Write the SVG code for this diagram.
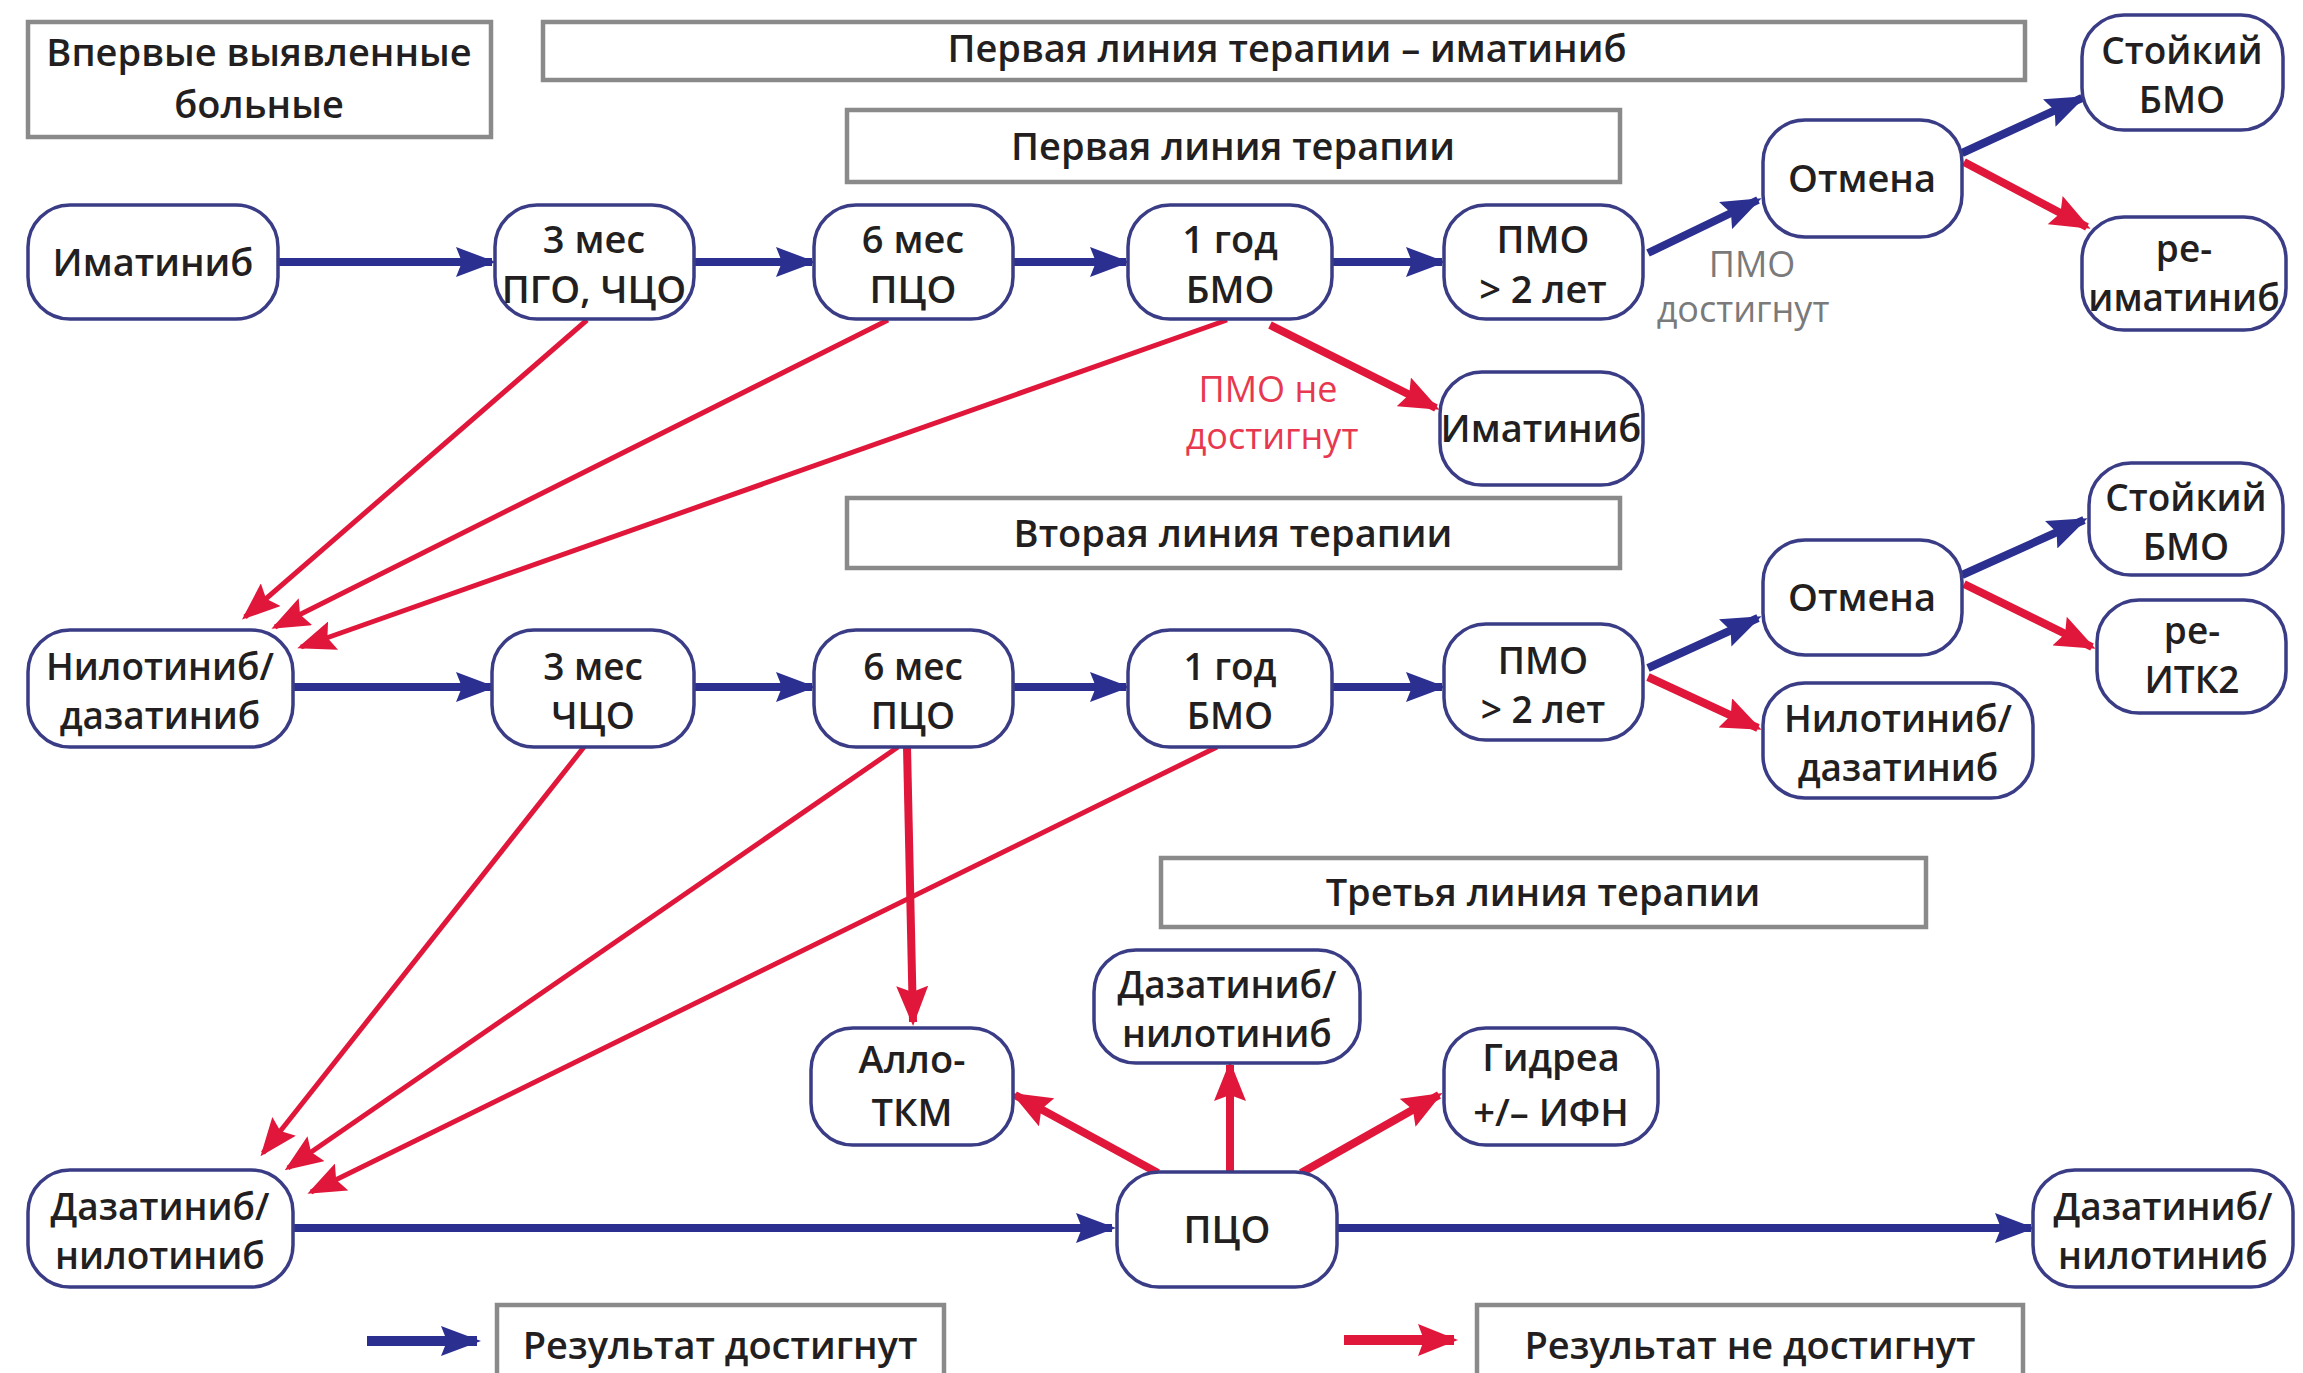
<svg xmlns="http://www.w3.org/2000/svg" width="2303" height="1373" viewBox="0 0 2303 1373">
<defs>
<style>
.hdr{fill:#fff;stroke:#8a8a8a;stroke-width:4.5}
.nd{fill:#fff;stroke:#3a3c86;stroke-width:3.5}
.t{font-family:"Open Sans","Noto Sans","Liberation Sans",sans-serif;font-weight:600;font-size:38px;fill:#231f20;text-anchor:middle}
.t2{font-size:37px}
.lblg{font-family:"Open Sans","Noto Sans","Liberation Sans",sans-serif;font-weight:400;font-size:36px;fill:#7a7a7a;text-anchor:middle}
.lblr{font-family:"Open Sans","Noto Sans","Liberation Sans",sans-serif;font-weight:400;font-size:36px;fill:#e8384f;text-anchor:middle}
.b{stroke:#2b2f8f;stroke-width:8;fill:none;marker-end:url(#bh)}
.r{stroke:#e0173a;stroke-width:5;fill:none;marker-end:url(#rh)}
.rt{stroke:#e0173a;stroke-width:8;fill:none;marker-end:url(#rh2)}
</style>
<marker id="bh" markerUnits="userSpaceOnUse" viewBox="0 0 40 30" markerWidth="40" markerHeight="30" refX="36" refY="15" orient="auto">
<path d="M0,0 L40,15 L0,30 L6,15 z" fill="#2b2f8f"/>
</marker>
<marker id="rh" markerUnits="userSpaceOnUse" viewBox="0 0 38 30" markerWidth="38" markerHeight="30" refX="34" refY="15" orient="auto">
<path d="M0,0 L38,15 L0,30 L6,15 z" fill="#e0173a"/>
</marker>
<marker id="rh2" markerUnits="userSpaceOnUse" viewBox="0 0 40 32" markerWidth="40" markerHeight="32" refX="36" refY="16" orient="auto">
<path d="M0,0 L40,16 L0,32 L6,16 z" fill="#e0173a"/>
</marker>
</defs>
<rect width="2303" height="1373" fill="#fff"/>

<g id="headers">
<g id="h-new"><rect class="hdr" x="28" y="22" width="463" height="115"/><text class="t"><tspan x="259" y="66">Впервые выявленные</tspan><tspan x="259" y="118">больные</tspan></text></g>
<g id="h-first-imatinib"><rect class="hdr" x="543" y="22" width="1482" height="58"/><text class="t" x="1287" y="62">Первая линия терапии – иматиниб</text></g>
<g id="h-first"><rect class="hdr" x="847" y="110" width="773" height="72"/><text class="t" x="1233" y="160">Первая линия терапии</text></g>
<g id="h-second"><rect class="hdr" x="847" y="498" width="773" height="70"/><text class="t" x="1233" y="547">Вторая линия терапии</text></g>
<g id="h-third"><rect class="hdr" x="1161" y="858" width="765" height="69"/><text class="t" x="1543" y="906">Третья линия терапии</text></g>
<g id="legend-ok"><rect class="hdr" x="497" y="1305" width="447" height="85"/><text class="t" x="720" y="1359">Результат достигнут</text></g>
<g id="legend-fail"><rect class="hdr" x="1477" y="1305" width="546" height="85"/><text class="t" x="1750" y="1359">Результат не достигнут</text></g>
</g>

<g id="connectors">
<line class="b" x1="278" y1="262" x2="492" y2="262"/>
<line class="b" x1="694" y1="262" x2="812" y2="262"/>
<line class="b" x1="1013" y1="262" x2="1126" y2="262"/>
<line class="b" x1="1332" y1="262" x2="1442" y2="262"/>
<line class="b" x1="1648" y1="253" x2="1758" y2="200"/>
<line class="b" x1="1962" y1="153" x2="2082" y2="98"/>
<line class="rt" x1="1964" y1="162" x2="2087" y2="227"/>
<line class="rt" x1="1270" y1="325" x2="1436" y2="408"/>
<line class="r" x1="587" y1="320" x2="245" y2="617"/>
<line class="r" x1="888" y1="320" x2="275" y2="627"/>
<line class="r" x1="1227" y1="320" x2="301" y2="647"/>

<line class="b" x1="293" y1="687" x2="492" y2="687"/>
<line class="b" x1="694" y1="687" x2="812" y2="687"/>
<line class="b" x1="1013" y1="687" x2="1126" y2="687"/>
<line class="b" x1="1332" y1="687" x2="1442" y2="687"/>
<line class="b" x1="1648" y1="668" x2="1758" y2="618"/>
<line class="rt" x1="1648" y1="677" x2="1758" y2="728"/>
<line class="b" x1="1962" y1="575" x2="2084" y2="520"/>
<line class="rt" x1="1964" y1="584" x2="2092" y2="647"/>
<line class="r" x1="584" y1="747" x2="263" y2="1153"/>
<line class="r" x1="898" y1="747" x2="288" y2="1168"/>
<line class="r" x1="1217" y1="747" x2="311" y2="1192"/>
<line class="rt" x1="907" y1="747" x2="913" y2="1022"/>

<line class="b" x1="293" y1="1228" x2="1112" y2="1228"/>
<line class="b" x1="1337" y1="1228" x2="2031" y2="1228"/>
<line class="rt" x1="1158" y1="1173" x2="1015" y2="1095"/>
<line class="rt" x1="1230" y1="1173" x2="1230" y2="1065"/>
<line class="rt" x1="1301" y1="1173" x2="1439" y2="1095"/>

<line class="b" x1="367" y1="1341" x2="477" y2="1341" style="stroke-width:10"/>
<line class="rt" x1="1344" y1="1340" x2="1454" y2="1340" style="stroke-width:10"/>
</g>

<g id="labels">
<text class="lblg"><tspan x="1752" y="277">ПМО</tspan><tspan x="1743" y="322">достигнут</tspan></text>
<text class="lblr"><tspan x="1268" y="402">ПМО не</tspan><tspan x="1272" y="449">достигнут</tspan></text>
</g>

<g id="n-imatinib1"><rect class="nd" x="28" y="205" width="250" height="114" rx="42"/><text class="t" x="153" y="276">Иматиниб</text></g>
<g id="n-3m-1"><rect class="nd" x="495" y="205" width="199" height="114" rx="42"/><text class="t"><tspan x="594" y="253">3 мес</tspan><tspan x="594" y="303">ПГО, ЧЦО</tspan></text></g>
<g id="n-6m-1"><rect class="nd" x="814" y="205" width="199" height="114" rx="42"/><text class="t"><tspan x="913" y="253">6 мес</tspan><tspan x="913" y="303">ПЦО</tspan></text></g>
<g id="n-1y-1"><rect class="nd" x="1128" y="205" width="204" height="114" rx="42"/><text class="t"><tspan x="1230" y="253">1 год</tspan><tspan x="1230" y="303">БМО</tspan></text></g>
<g id="n-pmo-1"><rect class="nd" x="1444" y="205" width="199" height="114" rx="42"/><text class="t"><tspan x="1543" y="253">ПМО</tspan><tspan x="1543" y="303">&gt; 2 лет</tspan></text></g>
<g id="n-stop-1"><rect class="nd" x="1763" y="120" width="199" height="117" rx="42"/><text class="t" x="1862" y="192">Отмена</text></g>
<g id="n-stable-1"><rect class="nd" x="2082" y="15" width="201" height="115" rx="42"/><text class="t t2"><tspan x="2182" y="64">Стойкий</tspan><tspan x="2182" y="113">БМО</tspan></text></g>
<g id="n-reimatinib"><rect class="nd" x="2082" y="217" width="204" height="113" rx="42"/><text class="t t2"><tspan x="2184" y="262">ре-</tspan><tspan x="2184" y="311">иматиниб</tspan></text></g>
<g id="n-imatinib2"><rect class="nd" x="1440" y="372" width="203" height="113" rx="42"/><text class="t" x="1541" y="442">Иматиниб</text></g>

<g id="n-nilo1"><rect class="nd" x="28" y="630" width="265" height="117" rx="42"/><text class="t t2"><tspan x="160" y="680">Нилотиниб/</tspan><tspan x="160" y="729">дазатиниб</tspan></text></g>
<g id="n-3m-2"><rect class="nd" x="492" y="630" width="202" height="117" rx="42"/><text class="t t2"><tspan x="593" y="680">3 мес</tspan><tspan x="593" y="729">ЧЦО</tspan></text></g>
<g id="n-6m-2"><rect class="nd" x="814" y="630" width="199" height="117" rx="42"/><text class="t t2"><tspan x="913" y="680">6 мес</tspan><tspan x="913" y="729">ПЦО</tspan></text></g>
<g id="n-1y-2"><rect class="nd" x="1128" y="630" width="204" height="117" rx="42"/><text class="t t2"><tspan x="1230" y="680">1 год</tspan><tspan x="1230" y="729">БМО</tspan></text></g>
<g id="n-pmo-2"><rect class="nd" x="1444" y="624" width="199" height="116" rx="42"/><text class="t t2"><tspan x="1543" y="674">ПМО</tspan><tspan x="1543" y="723">&gt; 2 лет</tspan></text></g>
<g id="n-stop-2"><rect class="nd" x="1763" y="540" width="199" height="115" rx="42"/><text class="t" x="1862" y="611">Отмена</text></g>
<g id="n-stable-2"><rect class="nd" x="2089" y="463" width="194" height="112" rx="42"/><text class="t t2"><tspan x="2186" y="511">Стойкий</tspan><tspan x="2186" y="560">БМО</tspan></text></g>
<g id="n-reitk2"><rect class="nd" x="2097" y="600" width="189" height="113" rx="42"/><text class="t t2"><tspan x="2192" y="644">ре-</tspan><tspan x="2192" y="693">ИТК2</tspan></text></g>
<g id="n-nilo2"><rect class="nd" x="1763" y="683" width="270" height="115" rx="42"/><text class="t t2"><tspan x="1898" y="732">Нилотиниб/</tspan><tspan x="1898" y="781">дазатиниб</tspan></text></g>

<g id="n-allo"><rect class="nd" x="811" y="1028" width="202" height="117" rx="42"/><text class="t"><tspan x="912" y="1073">Алло-</tspan><tspan x="912" y="1126">ТКМ</tspan></text></g>
<g id="n-dasa-mid"><rect class="nd" x="1094" y="950" width="266" height="113" rx="42"/><text class="t t2"><tspan x="1227" y="998">Дазатиниб/</tspan><tspan x="1227" y="1047">нилотиниб</tspan></text></g>
<g id="n-hydrea"><rect class="nd" x="1444" y="1028" width="214" height="117" rx="42"/><text class="t"><tspan x="1551" y="1071">Гидреа</tspan><tspan x="1551" y="1126">+/– ИФН</tspan></text></g>
<g id="n-pco"><rect class="nd" x="1117" y="1172" width="220" height="115" rx="42"/><text class="t" x="1227" y="1243">ПЦО</text></g>
<g id="n-dasa-left"><rect class="nd" x="28" y="1170" width="265" height="117" rx="42"/><text class="t t2"><tspan x="160" y="1220">Дазатиниб/</tspan><tspan x="160" y="1269">нилотиниб</tspan></text></g>
<g id="n-dasa-right"><rect class="nd" x="2033" y="1170" width="260" height="117" rx="42"/><text class="t t2"><tspan x="2163" y="1220">Дазатиниб/</tspan><tspan x="2163" y="1269">нилотиниб</tspan></text></g>
</svg>
